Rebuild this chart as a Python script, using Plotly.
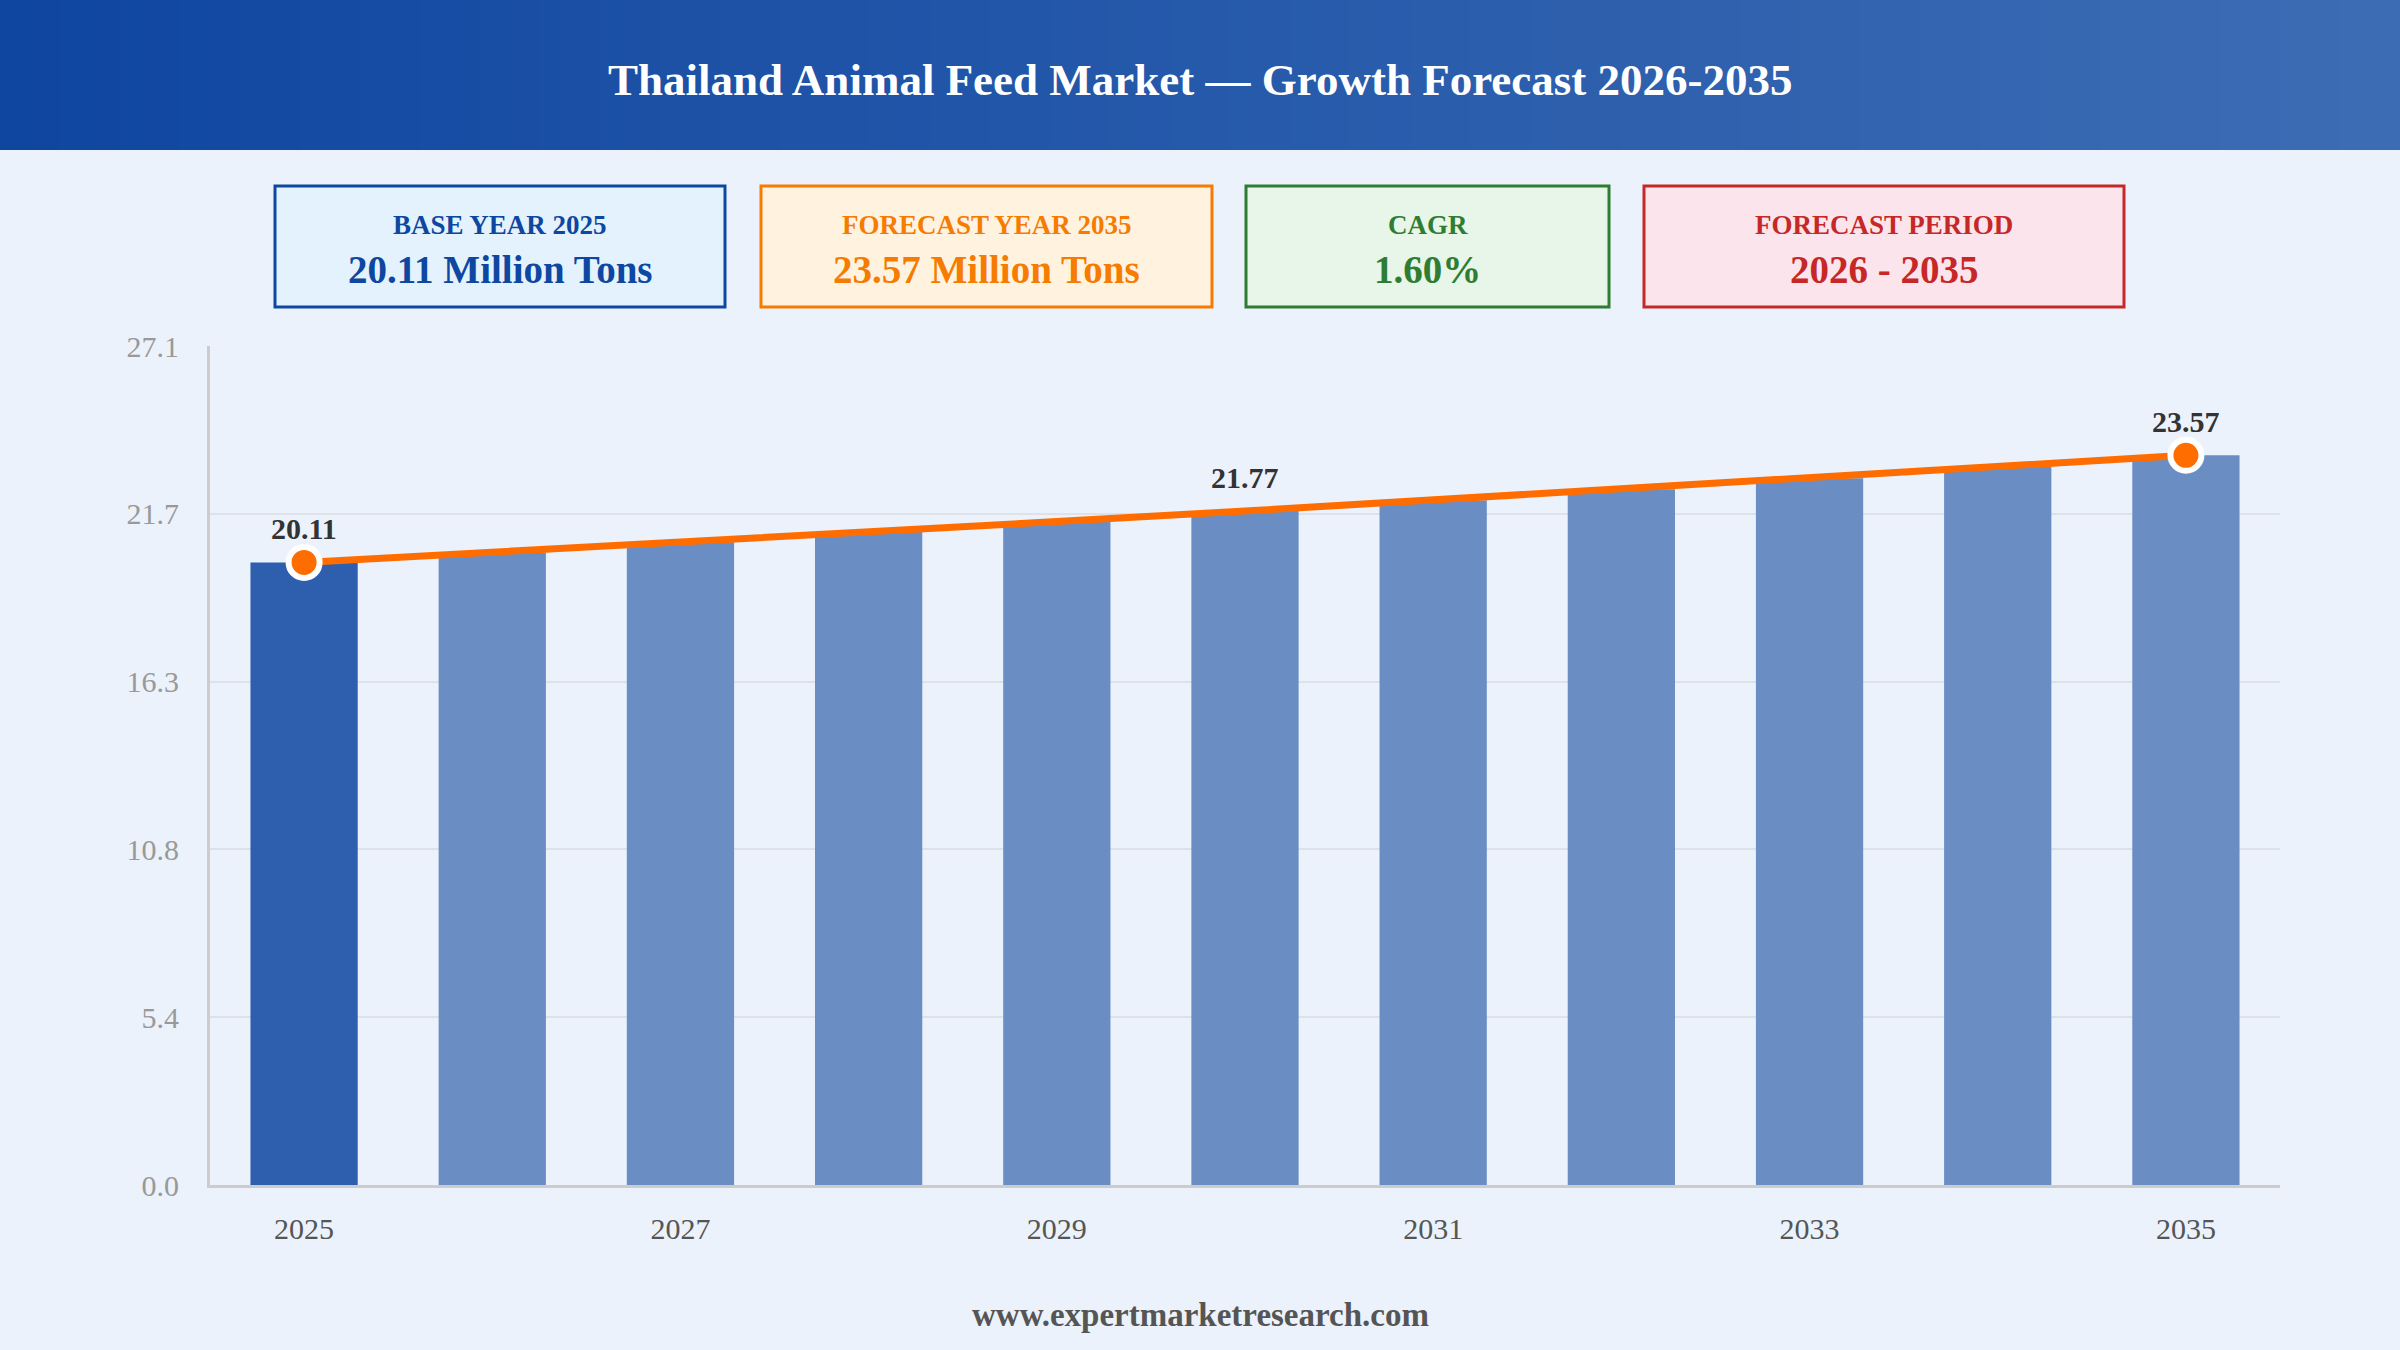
import plotly.graph_objects as go

# Data
years = [2025, 2026, 2027, 2028, 2029, 2030, 2031, 2032, 2033, 2034, 2035]
volume = [20.11, 20.43, 20.76, 21.09, 21.43, 21.77, 22.12, 22.47, 22.83, 23.20, 23.57]
label_years = [2025, 2030, 2035]
tick_years = [2025, 2027, 2029, 2031, 2033, 2035]
y_ticks = [0.0, 5.42, 10.84, 16.26, 21.68, 27.1]
y_tick_text = ["0.0", "5.4", "10.8", "16.3", "21.7", "27.1"]

kpi_labels = ["BASE YEAR 2025", "FORECAST YEAR 2035", "CAGR", "FORECAST PERIOD"]
kpi_values = ["20.11 Million Tons", "23.57 Million Tons", "1.60%", "2026 - 2035"]

W, H = 2400, 1350
L, R, T, B = 210, 120, 346, 165
PW, PH = W - L - R, H - T - B

def px_x(x):
    return (x - L) / PW

def px_y(y):
    return (H - B - y) / PH

FONT = "Liberation Serif, Times New Roman, serif"

bar_colors = ["#2e5fae"] + ["#6a8ec4"] * (len(years) - 1)
marker_sizes = [31 if y in (years[0], years[-1]) else 0 for y in years]

fig = go.Figure()
fig.add_trace(go.Bar(
    x=years, y=volume, width=0.57,
    marker=dict(color=bar_colors, line=dict(width=0)),
    hoverinfo="skip",
))
fig.add_trace(go.Scatter(
    x=years, y=volume, mode="lines+markers",
    line=dict(color="#ff6d00", width=7),
    marker=dict(size=marker_sizes, color="#ff6d00", opacity=1,
                line=dict(color="#ffffff", width=6)),
    cliponaxis=False, hoverinfo="skip",
))

shapes = []
# header gradient strips
n = 80
c0, c1 = (15, 70, 160), (60, 108, 180)
for i in range(n):
    t = i / (n - 1)
    col = "rgb(%d,%d,%d)" % tuple(round(a + (b - a) * t) for a, b in zip(c0, c1))
    shapes.append(dict(type="rect", xref="paper", yref="paper", layer="below",
                       x0=px_x(i * W / n), x1=px_x((i + 1) * W / n + 1),
                       y0=px_y(150), y1=px_y(0), fillcolor=col, line=dict(width=0)))

box_x = [(275, 725), (761, 1212), (1246, 1609), (1644, 2124)]
box_border = ["#0d47a1", "#f57c00", "#2e7d32", "#c62828"]
box_fill = ["#e3f2fd", "#fff3e0", "#e8f5e9", "#fce4ec"]
annotations = [dict(
    text="<b>Thailand Animal Feed Market — Growth Forecast 2026-2035</b>",
    xref="paper", yref="paper", x=px_x(W / 2), y=px_y(80),
    xanchor="center", yanchor="middle", showarrow=False,
    font=dict(family=FONT, size=45, color="white"),
)]
for (x0, x1), bc, fc, lab, val in zip(box_x, box_border, box_fill, kpi_labels, kpi_values):
    shapes.append(dict(type="rect", xref="paper", yref="paper",
                       x0=px_x(x0), x1=px_x(x1), y0=px_y(307), y1=px_y(186),
                       fillcolor=fc, line=dict(color=bc, width=3)))
    xc = px_x((x0 + x1) / 2)
    annotations.append(dict(text=f"<b>{lab}</b>", xref="paper", yref="paper",
                            x=xc, y=px_y(225), xanchor="center", yanchor="middle",
                            showarrow=False, font=dict(family=FONT, size=27, color=bc)))
    annotations.append(dict(text=f"<b>{val}</b>", xref="paper", yref="paper",
                            x=xc, y=px_y(269), xanchor="center", yanchor="middle",
                            showarrow=False, font=dict(family=FONT, size=39, color=bc)))

# value labels above the line
for y, v in zip(years, volume):
    if y in label_years:
        annotations.append(dict(text=f"<b>{v:.2f}</b>", x=y, y=v, xref="x", yref="y",
                                xanchor="center", yanchor="middle", yshift=34,
                                showarrow=False,
                                font=dict(family=FONT, size=30, color="#333333")))

annotations.append(dict(
    text="<b>www.expertmarketresearch.com</b>", xref="paper", yref="paper",
    x=px_x(W / 2), y=px_y(1315), xanchor="center", yanchor="middle", showarrow=False,
    font=dict(family=FONT, size=33, color="#555555"),
))

fig.update_layout(
    width=W, height=H,
    margin=dict(l=L, r=R, t=T, b=B),
    paper_bgcolor="#ebf2fb", plot_bgcolor="#ebf2fb",
    showlegend=False,
    shapes=shapes, annotations=annotations,
)
fig.update_xaxes(
    range=[2024.5, 2035.5], tickvals=tick_years, ticktext=[str(y) for y in tick_years],
    tickfont=dict(family=FONT, size=30, color="#555555"),
    showgrid=False, showline=True, linecolor="#cccccc", linewidth=3,
    ticks="", ticklabelstandoff=15, zeroline=False,
)
fig.update_yaxes(
    range=[0, 27.1], tickvals=y_ticks, ticktext=y_tick_text,
    tickfont=dict(family=FONT, size=30, color="#999999"),
    showgrid=True, gridcolor="#dde2e8", gridwidth=2,
    showline=True, linecolor="#cccccc", linewidth=3,
    ticks="", ticklabelstandoff=22, zeroline=False,
)

fig.write_html("out.html", config={"displayModeBar": False},
               post_script="document.body.style.margin='0';")
